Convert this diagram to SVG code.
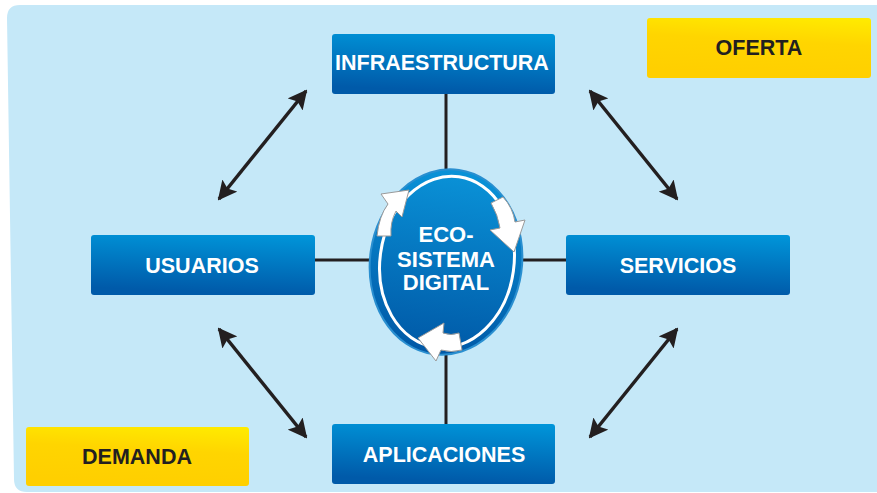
<svg xmlns="http://www.w3.org/2000/svg" width="877" height="493" viewBox="0 0 877 493">
<defs>
<linearGradient id="gBlue" x1="1" y1="0" x2="0.85" y2="1">
<stop offset="0" stop-color="#0096da"/>
<stop offset="1" stop-color="#005aa9"/>
</linearGradient>
<linearGradient id="gYel" x1="1" y1="0" x2="0.8" y2="1">
<stop offset="0" stop-color="#ffec00"/>
<stop offset="0.45" stop-color="#ffd500"/>
<stop offset="1" stop-color="#ffcf00"/>
</linearGradient>
<linearGradient id="gEll" x1="0" y1="0" x2="0" y2="1">
<stop offset="0" stop-color="#0a93d8"/>
<stop offset="1" stop-color="#0058a6"/>
</linearGradient>
<marker id="ah" viewBox="0 0 10 10" refX="9" refY="5" markerWidth="5.5" markerHeight="5.5" orient="auto-start-reverse" markerUnits="strokeWidth">
<path d="M0,0 L10,5 L0,10 L2,5 Z" fill="#231f20"/>
</marker>
<style>
.box{fill:url(#gBlue);}
.ybox{fill:url(#gYel);}
.lbl{font-family:"Liberation Sans",Arial,sans-serif;font-weight:bold;font-size:21.5px;fill:#ffffff;text-anchor:middle;}
.ylbl{font-family:"Liberation Sans",Arial,sans-serif;font-weight:bold;font-size:21.5px;fill:#231f20;text-anchor:middle;}
.eco{font-size:22px;}
.conn{stroke:#231f20;stroke-width:3;fill:none;}
.darr{stroke:#231f20;stroke-width:3.5;fill:none;marker-start:url(#ah);marker-end:url(#ah);}
.carr{fill:#ffffff;stroke:#9a9a9a;stroke-width:1;stroke-linejoin:round;}
</style>
</defs>
<rect width="877" height="493" fill="#ffffff"/>
<path d="M7,18 Q7,5 20,5 L877,5 L877,492 L27,492 Q14,492 14,479 Z" fill="#c5e8f8"/>

<g id="connectors">
<line class="conn" x1="446" y1="94" x2="446" y2="172"/>
<line class="conn" x1="446" y1="350" x2="446" y2="424"/>
<line class="conn" x1="315" y1="260" x2="372" y2="260"/>
<line class="conn" x1="520" y1="260" x2="566" y2="260"/>
<line class="darr" x1="219" y1="199" x2="306" y2="91"/>
<line class="darr" x1="590" y1="91" x2="677" y2="199"/>
<line class="darr" x1="219" y1="329" x2="306" y2="437"/>
<line class="darr" x1="677" y1="329" x2="590" y2="437"/>
</g>

<g id="infraestructura">
<rect class="box" x="332" y="34" width="223" height="60" rx="3"/>
<text class="lbl" x="442" y="70">INFRAESTRUCTURA</text>
</g>
<g id="usuarios">
<rect class="box" x="91" y="235" width="224" height="60" rx="3"/>
<text class="lbl" x="202" y="273">USUARIOS</text>
</g>
<g id="servicios">
<rect class="box" x="566" y="235" width="224" height="60" rx="3"/>
<text class="lbl" x="678" y="273">SERVICIOS</text>
</g>
<g id="aplicaciones">
<rect class="box" x="332" y="424" width="223" height="60" rx="3"/>
<text class="lbl" x="444" y="462">APLICACIONES</text>
</g>
<g id="oferta">
<rect class="ybox" x="647" y="18" width="224" height="60" rx="3"/>
<text class="ylbl" x="759" y="55">OFERTA</text>
</g>
<g id="demanda">
<rect class="ybox" x="26" y="427" width="223" height="59" rx="3"/>
<text class="ylbl" x="137" y="464">DEMANDA</text>
</g>

<g id="ecosistema">
<ellipse cx="446" cy="262" rx="76" ry="93" transform="rotate(8 446 262)" fill="url(#gEll)" stroke="#2a8fd0" stroke-width="2"/>
<ellipse cx="447" cy="262" rx="67" ry="86" transform="rotate(8 447 262)" fill="none" stroke="#ffffff" stroke-width="3"/>
<path class="carr" d="M377,236 Q379,216 388,204 L381,194 L409,190 L402,217 L396,211 Q390,222 391,236 Z"/>
<path class="carr" d="M491,203 L503,197 Q513,208 515,222 L525,220 L514,252 L490,230 L500,228 Q498,215 491,203 Z"/>
<path class="carr" d="M459,333 L462,350 Q451,353 441,350 L436,361 L418,338 L444,323 L443,333 Q451,336 459,333 Z"/>
<text class="lbl eco" x="446" y="242">ECO-</text>
<text class="lbl eco" x="446" y="267">SISTEMA</text>
<text class="lbl eco" x="446" y="290">DIGITAL</text>
</g>
</svg>
